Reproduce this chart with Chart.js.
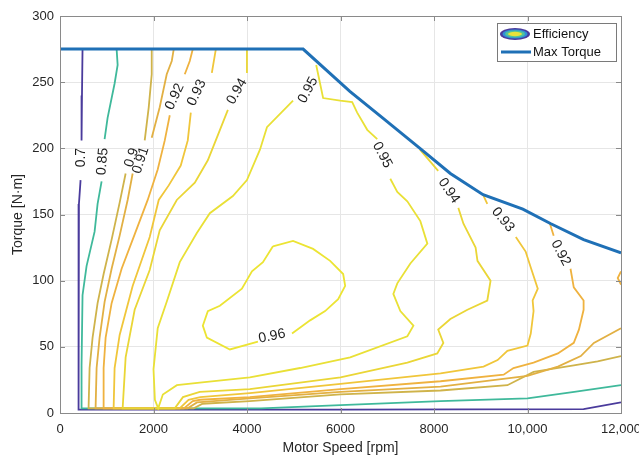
<!DOCTYPE html>
<html>
<head>
<meta charset="utf-8">
<title>Motor efficiency map</title>
<script src="https://cdn.jsdelivr.net/npm/chart.js@4.4.1/dist/chart.umd.min.js"></script>
<style>
  html, body { margin: 0; padding: 0; background: #fff; }
  #wrap { width: 639px; height: 459px; }
</style>
</head>
<body>
<div id="wrap"><canvas id="effmap" width="639" height="459"></canvas></div>
<script>
// axis ticks
const speedTicks = [0, 2000, 4000, 6000, 8000, 10000, 12000];
const speedTickLabels = ["0", "2000", "4000", "6000", "8000", "10,000", "12,000"];
const torqueTicks = [0, 50, 100, 150, 200, 250, 300];

// torque envelope
const maxTorqueRpm = [0, 5200, 6200, 6900, 7700, 8350, 9050, 9900, 10500, 11200, 12000];
const maxTorqueNm = [275, 275, 243, 223, 200, 181, 165, 154, 143, 131, 121];

// efficiency contour levels, each traced as [rpm, N·m] pairs (null = gap for a label)
const levels = [0.7, 0.85, 0.9, 0.91, 0.92, 0.93, 0.94, 0.95, 0.96];

const eff070 = [[482, 275], [470, 240], [461, 206], null, [440, 176], [405, 158], [397, 150], [397, 2.5],
  [6000, 2.5], [11200, 3], [12000, 8]];

const eff085 = [[1211, 275], [1233, 263], [1168, 249], [1018, 223], [954, 207], null, [890, 175], [804, 158],
  [740, 137], [568, 111], [482, 89], [461, 36], [461, 3.5], [4300, 3.5], [6000, 6], [8140, 9], [10000, 11],
  [11000, 16], [12000, 21]];

const eff090 = [[1962, 275], [1962, 256], [1898, 231], [1812, 206], null, [1404, 181], [1276, 159], [1104, 131],
  [933, 105], [804, 83], [697, 57], [633, 34], [611, 3.5], [2860, 3.5], [3050, 7], [4060, 9], [6000, 14],
  [8140, 17], [9570, 21], [10130, 31], [10990, 36], [11500, 39], [12000, 43]];

const eff091 = [[2433, 275], [2391, 266], [2283, 256], [2133, 231], [1962, 208], null, [1554, 181], [1447, 161],
  [1276, 134], [1104, 109], [954, 84], [847, 57], [783, 34], [761, 3.5], [2730, 3.5], [2930, 8], [4060, 11],
  [6000, 16], [8140, 20], [10000, 28], [10650, 35], [11140, 43], [11420, 53], [12000, 64]];

const eff092 = [[2841, 275], [2776, 266], [2669, 256], null, [2348, 225], [2241, 206], [2090, 184], [1876, 161],
  [1597, 135], [1318, 109], [1104, 83], [976, 57], [933, 34], [933, 3.5], [2650, 3.5], [2840, 9], [3000, 10],
  [4060, 12], [6000, 18], [8140, 24], [9490, 29], [9700, 34], [10130, 38], [10650, 45], [10990, 53],
  [11100, 63], [11200, 78], [11200, 85], [10990, 95], [10920, 109], null, [10560, 134], [10480, 143], null,
  [12000, 107], [11930, 102], [12000, 97]];

const eff093 = [[3334, 275], [3248, 257], null, [2798, 227], [2733, 206], [2583, 187], [2326, 172], [2112, 161],
  [1919, 133], [1554, 96], [1276, 59], [1168, 34], [1147, 3.5], [2560, 3.5], [2750, 10], [3000, 12],
  [4060, 15], [6000, 22], [8140, 30], [9060, 35], [9360, 40], [9570, 47], [10000, 51], [10070, 60],
  [10130, 77], [10110, 85], [10220, 94], [10070, 110], [9960, 122], [9750, 133], null, [9140, 158], [9060, 164]];

const eff094 = [[3999, 275], [3999, 257], null, [3591, 229], [3377, 210], [3162, 191], [2884, 174], [2498, 161],
  [2133, 138], [1919, 108], [1597, 78], [1404, 42], [1340, 3.5], [2455, 3.5], [2630, 12], [2990, 16],
  [4060, 18], [6000, 27], [7430, 38], [8070, 45], [8200, 53], [8090, 63], [8350, 71], [8715, 78], [9140, 85],
  [9210, 100], [8930, 115], [8890, 125], [8630, 143], [8520, 155], null, [8090, 183], [7700, 199]];

const eff095 = [[5400, 268], null, [4985, 236], [4427, 216], [4277, 199], [3999, 176], [3698, 164], [3205, 151],
  [2927, 136], [2562, 114], [2283, 84], [2090, 64], [2000, 33], [2030, 10], [2100, 3.5], [2200, 14],
  [2500, 21], [2990, 23], [4060, 27], [5135, 34], [6207, 42], [7430, 58], [7560, 66], [7280, 77], [7130, 90],
  [7215, 98], [7494, 113], [7858, 128], [7708, 145], [7429, 160], [7215, 167], [7065, 177], null, [6786, 207],
  [6572, 214], [6357, 227], [6250, 235], [5993, 236], [5628, 238], [5480, 263]];

const eff096 = [[4555, 126], [4985, 130], [5414, 124], [5778, 115], [6057, 105], [6100, 96], [5950, 86],
  [5671, 77], [5350, 70], [4963, 60], null, [4234, 54], [3634, 48], [3141, 57], [3055, 66], [3162, 77],
  [3420, 81], [3891, 94], [4106, 107], [4341, 114], [4555, 126]];

const contours = [eff070, eff085, eff090, eff091, eff092, eff093, eff094, eff095, eff096];

// inline contour labels
const labelText = ["0.7", "0.85", "0.9", "0.91", "0.92", "0.93", "0.94", "0.95", "0.95", "0.94", "0.93", "0.92", "0.96"];
const labelRpm = [461, 911, 1533, 1726, 2455, 2927, 3784, 5307, 6893, 8318, 9477, 10710, 4534];
const labelNm = [193, 190, 193, 191, 239, 242, 243, 244, 195, 168, 146, 121, 58];
const labelAngle = [-90, -85, -72, -72, -65, -65, -60, -62, 62, 55, 50, 62, -12];

// parula-style colours, low to high
const levelColors = ["#4a3b9c", "#3fb99b", "#cfb34a", "#e2b043", "#efb23f", "#f0c63a", "#ead636", "#e9e036", "#ece433"];
const torqueColor = "#1f70b6";

const FONT = '"Liberation Sans", Arial, Helvetica, sans-serif';

function toPoints(pairs) {
    const pts = [];
    pairs.forEach((p, i) => {
        if (p === null) {
            // break the line where the label sits
            const prev = pairs[i - 1];
            pts.push({ x: prev[0], y: null });
        } else {
            pts.push({ x: p[0], y: p[1] });
        }
    });
    return pts;
}

const datasets = [{
    label: "Max Torque",
    data: maxTorqueRpm.map((r, i) => ({ x: r, y: maxTorqueNm[i] })),
    borderColor: torqueColor,
    borderWidth: 3,
    pointRadius: 0,
    fill: false
}];
// higher levels drawn over lower ones (dataset 0 is drawn last)
for (let k = contours.length - 1; k >= 0; k--) {
    datasets.push({
        label: "eff " + levels[k],
        data: toPoints(contours[k]),
        borderColor: levelColors[k],
        borderWidth: 1.8,
        pointRadius: 0,
        spanGaps: false,
        fill: false
    });
}

const contourLabels = {
    id: "contourLabels",
    afterDatasetsDraw(chart) {
        const { ctx, scales: { x, y } } = chart;
        ctx.save();
        ctx.font = "14px " + FONT;
        ctx.fillStyle = "#1e1e1e";
        ctx.textAlign = "center";
        ctx.textBaseline = "middle";
        labelText.forEach((txt, i) => {
            ctx.save();
            ctx.translate(x.getPixelForValue(labelRpm[i]), y.getPixelForValue(labelNm[i]));
            ctx.rotate(labelAngle[i] * Math.PI / 180);
            ctx.fillText(txt, 0, 0);
            ctx.restore();
        });
        ctx.restore();
    }
};

// axes box with inward ticks, plus the legend
const frameAndLegend = {
    id: "frameAndLegend",
    afterDraw(chart) {
        const { ctx, chartArea: a, scales: { x, y } } = chart;
        ctx.save();
        ctx.strokeStyle = "#8a8a8a";
        ctx.lineWidth = 1;
        ctx.strokeRect(a.left + 0.5, a.top + 0.5, a.right - a.left, a.bottom - a.top);
        ctx.beginPath();
        speedTicks.forEach(v => {
            const px = Math.round(x.getPixelForValue(v)) + 0.5;
            ctx.moveTo(px, a.bottom); ctx.lineTo(px, a.bottom - 5);
            ctx.moveTo(px, a.top); ctx.lineTo(px, a.top + 5);
        });
        torqueTicks.forEach(v => {
            const py = Math.round(y.getPixelForValue(v)) + 0.5;
            ctx.moveTo(a.left, py); ctx.lineTo(a.left + 5, py);
            ctx.moveTo(a.right, py); ctx.lineTo(a.right - 5, py);
        });
        ctx.stroke();

        // legend box
        const lx = a.right - 124, ly = a.top + 7, lw = 119, lh = 38;
        ctx.fillStyle = "#fff";
        ctx.fillRect(lx, ly, lw, lh);
        ctx.strokeStyle = "#7a7a7a";
        ctx.strokeRect(lx + 0.5, ly + 0.5, lw, lh);

        // efficiency icon: nested ellipses
        const cx = lx + 18, cy = ly + 11;
        const rings = [[15, 6, levelColors[0]], [12.5, 4.6, "#2f8fd8"], [10, 3.4, "#52c39a"], [7, 2.2, "#e8e23a"]];
        rings.forEach(r => {
            ctx.beginPath();
            ctx.ellipse(cx, cy, r[0], r[1], 0, 0, Math.PI * 2);
            ctx.fillStyle = r[2];
            ctx.fill();
        });
        // max torque icon
        ctx.beginPath();
        ctx.strokeStyle = torqueColor;
        ctx.lineWidth = 3;
        ctx.moveTo(lx + 4, ly + 29);
        ctx.lineTo(lx + 34, ly + 29);
        ctx.stroke();

        ctx.fillStyle = "#111";
        ctx.font = "13px " + FONT;
        ctx.textAlign = "left";
        ctx.textBaseline = "middle";
        ctx.fillText("Efficiency", lx + 36, cy + 0.5);
        ctx.fillText("Max Torque", lx + 36, ly + 29);
        ctx.restore();
    }
};

new Chart(document.getElementById("effmap").getContext("2d"), {
    type: "line",
    data: { datasets: datasets },
    options: {
        responsive: false,
        animation: false,
        events: [],
        layout: { padding: { left: 10, right: 18, top: 16, bottom: 2 } },
        plugins: {
            legend: { display: false },
            tooltip: { enabled: false }
        },
        scales: {
            x: {
                type: "linear",
                min: 0,
                max: 12000,
                afterBuildTicks: (scale) => { scale.ticks = speedTicks.map(v => ({ value: v })); },
                afterFit: (scale) => {
                    scale.height = 44;
                    scale.paddingLeft = 0;
                    scale.paddingRight = 0;
                },
                ticks: {
                    callback: (v, i) => speedTickLabels[i],
                    font: { family: FONT, size: 13 },
                    color: "#262626",
                    padding: 9,
                    maxRotation: 0
                },
                grid: { color: "#e6e6e6", drawTicks: false },
                border: { display: false },
                title: {
                    display: true,
                    text: "Motor Speed [rpm]",
                    font: { family: FONT, size: 14 },
                    color: "#262626",
                    padding: { top: 0, bottom: 0 }
                }
            },
            y: {
                type: "linear",
                min: 0,
                max: 300,
                afterBuildTicks: (scale) => { scale.ticks = torqueTicks.map(v => ({ value: v })); },
                afterFit: (scale) => {
                    scale.width = 50;
                    scale.paddingTop = 0;
                    scale.paddingBottom = 0;
                },
                ticks: {
                    font: { family: FONT, size: 13 },
                    color: "#262626",
                    padding: 6
                },
                grid: { color: "#e6e6e6", drawTicks: false },
                border: { display: false },
                title: {
                    display: true,
                    text: "Torque [N·m]",
                    font: { family: FONT, size: 14 },
                    color: "#262626",
                    padding: { top: 0, bottom: 0 }
                }
            }
        }
    },
    plugins: [contourLabels, frameAndLegend]
});
</script>
</body>
</html>
